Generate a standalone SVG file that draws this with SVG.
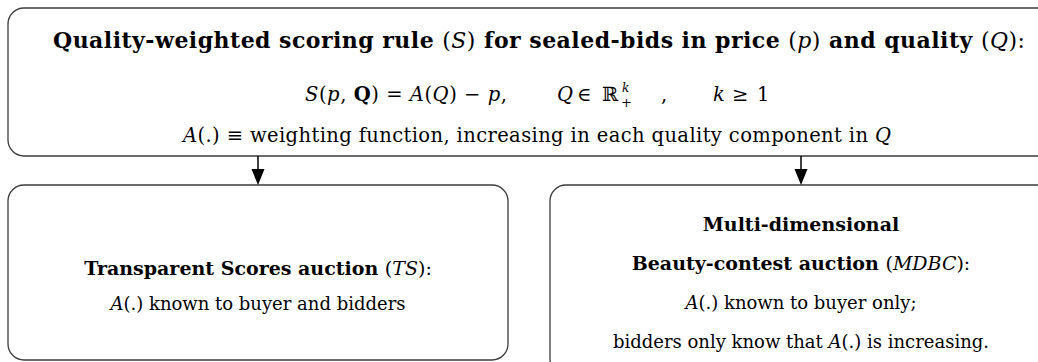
<svg xmlns="http://www.w3.org/2000/svg" width="1038" height="362" viewBox="0 0 1038 362">
<style>
text{font-family:"DejaVu Serif","DejaVu Sans",serif;fill:#000}
.t{font-size:22px;font-weight:bold}
.m{font-size:19.5px}
.b{font-size:19px;font-weight:bold}
.r{font-size:18px}
.i{font-style:italic;font-weight:normal}
.n{font-weight:normal}
.box{fill:#fff;stroke:#3c3c3c;stroke-width:1.3}
.ln{stroke:#000;stroke-width:1.5;fill:none}
.ah{fill:#000}
</style>
<g id="scoring-rule">
<rect class="box" x="8" y="8" width="1070" height="148" rx="16"/>
<text class="t" x="539" y="48" text-anchor="middle" textLength="972" lengthAdjust="spacing">Quality-weighted scoring rule <tspan class="n">(</tspan><tspan class="i">S</tspan><tspan class="n">)</tspan> for sealed-bids in price <tspan class="n">(</tspan><tspan class="i">p</tspan><tspan class="n">)</tspan> and quality <tspan class="n">(</tspan><tspan class="i">Q</tspan><tspan class="n">)</tspan><tspan class="n">:</tspan></text>
<text class="m" x="305" y="101" textLength="202" lengthAdjust="spacing"><tspan class="i">S</tspan>(<tspan class="i">p</tspan>, <tspan font-weight="bold">Q</tspan>) = <tspan class="i">A</tspan>(<tspan class="i">Q</tspan>) − <tspan class="i">p</tspan>,</text>
<text class="m" y="101"><tspan class="i" x="557">Q</tspan><tspan x="577">∈</tspan><tspan x="602">ℝ</tspan><tspan x="622" y="92" class="i" font-size="12">k</tspan><tspan x="621" y="107" font-size="13">+</tspan><tspan x="661" y="101">,</tspan><tspan class="i" x="713">k</tspan><tspan x="732">≥</tspan><tspan x="757">1</tspan></text>
<text class="m" x="183" y="142" textLength="708" lengthAdjust="spacing"><tspan class="i">A</tspan>(.) ≡ weighting function, increasing in each quality component in <tspan class="i">Q</tspan></text>
</g>
<g id="transparent-scores">
<rect class="box" x="8" y="185" width="500" height="175" rx="16"/>
<text class="b" x="258" y="275" text-anchor="middle">Transparent Scores auction <tspan class="n">(</tspan><tspan class="i">TS</tspan><tspan class="n">):</tspan></text>
<text class="r" x="258" y="310" text-anchor="middle"><tspan class="i">A</tspan>(.) known to buyer and bidders</text>
</g>
<g id="beauty-contest">
<rect class="box" x="550" y="185" width="510" height="190" rx="16"/>
<text class="b" x="801" y="231" text-anchor="middle">Multi-dimensional</text>
<text class="b" x="801" y="270" text-anchor="middle">Beauty-contest auction <tspan class="n">(</tspan><tspan class="i">MDBC</tspan><tspan class="n">):</tspan></text>
<text class="r" x="801" y="309" text-anchor="middle"><tspan class="i">A</tspan>(.) known to buyer only;</text>
<text class="r" x="801" y="348" text-anchor="middle">bidders only know that <tspan class="i">A</tspan>(.) is increasing.</text>
</g>
<g id="connectors">
<line class="ln" x1="258" y1="156" x2="258" y2="171"/>
<polygon class="ah" points="251.5,169 264.5,169 258,185"/>
<line class="ln" x1="801" y1="156" x2="801" y2="171"/>
<polygon class="ah" points="794.5,169 807.5,169 801,185"/>
</g>
</svg>
